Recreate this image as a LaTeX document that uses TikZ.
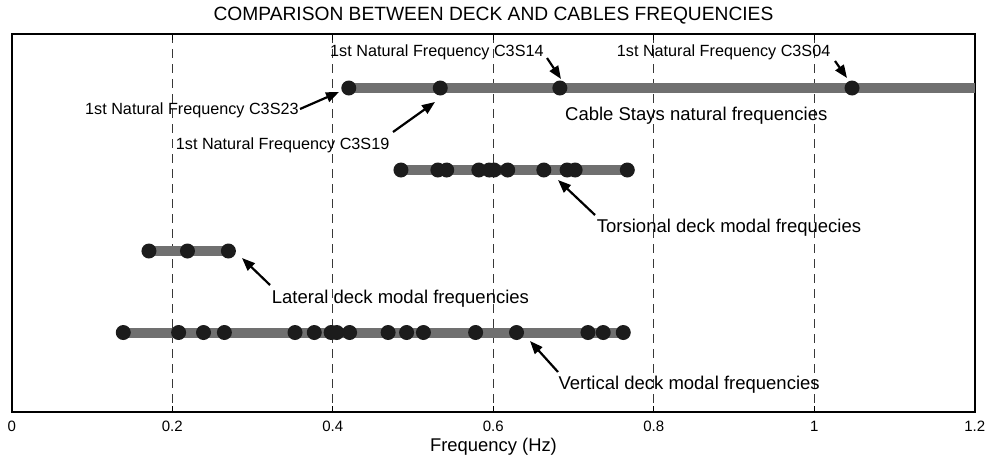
\documentclass[tikz,border=0pt]{standalone}
\usepackage{fontspec}
\setmainfont{Liberation Sans}
\usetikzlibrary{arrows.meta}
\definecolor{barcol}{HTML}{707070}
\definecolor{dotcol}{HTML}{1C1C1C}
\definecolor{gridcol}{HTML}{383838}
\tikzset{
  dotnode/.style={circle,fill=dotcol,minimum size=15pt,inner sep=0pt},
  barline/.style={barcol,line width=10pt},
  gridline/.style={gridcol,line width=1.3pt,dash pattern=on 9pt off 6pt},
  ticktext/.style={font=\fontsize{15}{18}\selectfont,anchor=base,inner sep=0pt},
  annot/.style={font=\fontsize{18.5}{22}\selectfont,anchor=base west,inner sep=0pt},
  natlabel/.style={font=\fontsize{16.2}{19}\selectfont,anchor=base west,inner sep=0pt},
  pointer/.style={line width=2.2pt,-{Triangle[length=13pt,width=10pt]}},
}
\begin{document}
\begin{tikzpicture}[x=1pt,y=-1pt]
\useasboundingbox (0,0) rectangle (987,459);
\fill[white] (0,0) rectangle (987,459);
% grid lines and ticks
\foreach \f in {0.2,0.4,0.6,0.8,1.0}{
  \pgfmathsetmacro{\gx}{11.7+\f*802.6}
  \draw[gridline] (\gx,34) -- (\gx,412);
  \draw[line width=1.3pt] (\gx,34) -- (\gx,40);
  \draw[line width=1.3pt] (\gx,412) -- (\gx,406);
}
% axes box
\draw[line width=2.2pt] (12,34) rectangle (975,412);
% tick labels
\foreach \f/\t in {0/0,0.2/0.2,0.4/0.4,0.6/0.6,0.8/0.8,1.0/1,1.2/1.2}{
  \pgfmathsetmacro{\gx}{11.7+\f*802.6}
  \node[ticktext] (tk\t) at (\gx,431) {\t};
}
\node[font=\fontsize{18.4}{22}\selectfont,anchor=base,inner sep=0pt] (xlab) at (493.5,451) {Frequency (Hz)};
\node[font=\fontsize{19.2}{23}\selectfont,anchor=base,inner sep=0pt] (title) at (493.5,20.7) {COMPARISON BETWEEN DECK AND CABLES FREQUENCIES};
% cable stays
\foreach \f [count=\i] in {0.420,0.534,0.683,1.047}{
  \pgfmathsetmacro{\gx}{11.7+\f*802.6}
  \coordinate (c\i) at (\gx,88);
}
\coordinate (cend) at (975,88);
\draw[barline] (c1) -- (cend);
\foreach \i in {1,...,4}{\node[dotnode] (cd\i) at (c\i) {};}
% torsional
\foreach \f [count=\i] in {0.485,0.531,0.542,0.582,0.595,0.601,0.618,0.663,0.692,0.702,0.767}{
  \pgfmathsetmacro{\gx}{11.7+\f*802.6}
  \coordinate (t\i) at (\gx,170);
}
\draw[barline] (t1) -- (t11);
\foreach \i in {1,...,11}{\node[dotnode] (td\i) at (t\i) {};}
% lateral
\foreach \f [count=\i] in {0.171,0.219,0.270}{
  \pgfmathsetmacro{\gx}{11.7+\f*802.6}
  \coordinate (l\i) at (\gx,251);
}
\draw[barline] (l1) -- (l3);
\foreach \i in {1,...,3}{\node[dotnode] (ld\i) at (l\i) {};}
% vertical
\foreach \f [count=\i] in {0.139,0.208,0.239,0.265,0.353,0.377,0.398,0.405,0.421,0.469,0.492,0.513,0.578,0.629,0.718,0.737,0.762}{
  \pgfmathsetmacro{\gx}{11.7+\f*802.6}
  \coordinate (v\i) at (\gx,332.5);
}
\draw[barline] (v1) -- (v17);
\foreach \i in {1,...,17}{\node[dotnode] (vd\i) at (v\i) {};}
% labels
\node[natlabel] (n14) at (330,56.5) {1st Natural Frequency C3S14};
\node[natlabel] (n04) at (616.7,56.5) {1st Natural Frequency C3S04};
\node[natlabel] (n23) at (85,114) {1st Natural Frequency C3S23};
\node[natlabel] (n19) at (175.7,149) {1st Natural Frequency C3S19};
\node[annot] (lcab) at (565,120) {Cable Stays natural frequencies};
\node[annot] (ltor) at (596.7,232) {Torsional deck modal frequecies};
\node[annot] (llat) at (271.7,303) {Lateral deck modal frequencies};
\node[annot] (lver) at (558.3,389) {Vertical deck modal frequencies};
% arrows
\coordinate (a23s) at (300,109); \coordinate (a23e) at (339,92);
\coordinate (a19s) at (393,132); \coordinate (a19e) at (435,102);
\coordinate (a14s) at (547,58);  \coordinate (a14e) at (561,79);
\coordinate (a04s) at (835,61);  \coordinate (a04e) at (847,78);
\coordinate (ators) at (595,215); \coordinate (atore) at (558,180);
\coordinate (alats) at (270,285); \coordinate (alate) at (242,258);
\coordinate (avers) at (558,372); \coordinate (avere) at (530,341);
\draw[pointer] (a23s) -- (a23e);
\draw[pointer] (a19s) -- (a19e);
\draw[pointer] (a14s) -- (a14e);
\draw[pointer] (a04s) -- (a04e);
\draw[pointer] (ators) -- (atore);
\draw[pointer] (alats) -- (alate);
\draw[pointer] (avers) -- (avere);
\end{tikzpicture}
\end{document}
